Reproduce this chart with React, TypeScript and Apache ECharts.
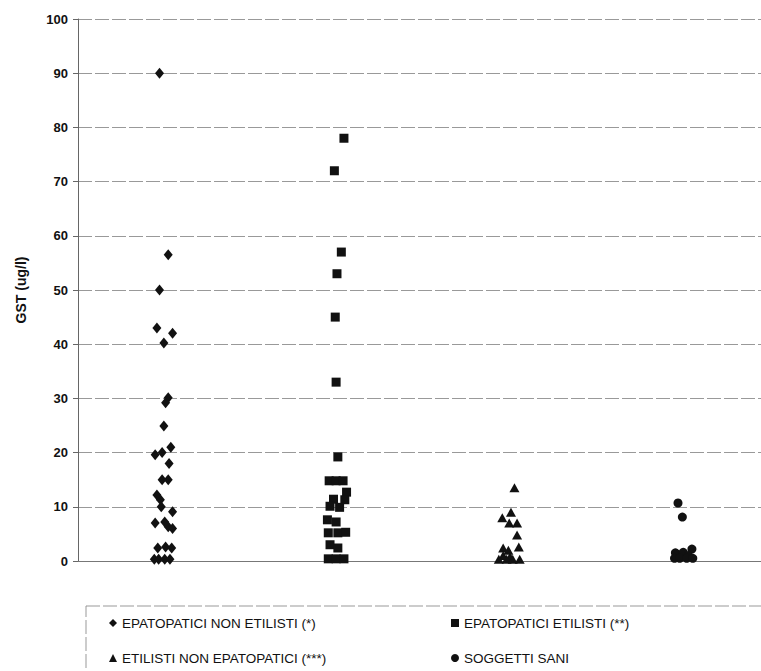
import React, { useEffect, useRef } from "react";
import * as echarts from "echarts";

// Y-axis ticks
const yTicks = [0, 10, 20, 30, 40, 50, 60, 70, 80, 90, 100];

// Group names (legend)
const groupNames = [
  "EPATOPATICI NON ETILISTI (*)",
  "EPATOPATICI ETILISTI (**)",
  "ETILISTI NON EPATOPATICI (***)",
  "SOGGETTI SANI",
];

// Values (GST ug/l) and horizontal jitter (fraction of group spacing) per group
const g1Values = [90, 56.5, 50, 43, 42, 40.2, 30.1, 29.2, 24.9, 21, 19.6, 20, 18, 15, 15, 12.2, 11.3, 10, 9.1, 7, 7.2, 6.3, 6, 2.4, 2.6, 2.4, 0.3, 0.3, 0.3, 0.3];
const g1Jitter = [-0.02, 0.03, -0.02, -0.035, 0.055, 0.005, 0.03, 0.015, 0.005, 0.045, -0.045, -0.005, 0.035, -0.005, 0.03, -0.035, -0.015, -0.01, 0.055, -0.045, 0.01, 0.03, 0.055, -0.03, 0.015, 0.05, -0.05, -0.025, 0.01, 0.04];

const g2Values = [78, 72, 57, 53, 45, 33, 19.2, 14.8, 14.8, 14.8, 12.7, 11.4, 11.3, 10.1, 9.9, 7.6, 7.2, 5.2, 5.2, 5.3, 3, 2.4, 0.4, 0.4, 0.4];
const g2Jitter = [0.04, -0.015, 0.025, 0, -0.01, -0.005, 0.005, -0.045, -0.005, 0.035, 0.055, -0.02, 0.045, -0.04, 0.015, -0.055, -0.005, -0.05, 0.005, 0.05, -0.04, 0.005, -0.05, -0.005, 0.04];

const g3Values = [13.5, 9, 8, 7, 7, 4.8, 2.6, 2.4, 2, 1, 0.8, 0.3, 0.3, 0.3, 0.3];
const g3Jitter = [0.02, 0, -0.05, -0.01, 0.035, 0.035, 0.045, -0.045, -0.015, -0.045, -0.005, -0.07, -0.025, 0.01, 0.05];

const g4Values = [10.7, 8.1, 2.2, 1.5, 1.6, 1.0, 0.5, 0.5, 0.5, 0.5];
const g4Jitter = [-0.04, -0.015, 0.04, -0.055, -0.01, 0.02, -0.06, -0.03, 0.01, 0.045];

const groupValues = [g1Values, g2Values, g3Values, g4Values];
const groupJitter = [g1Jitter, g2Jitter, g3Jitter, g4Jitter];
const symbols = ["diamond", "rect", "triangle", "circle"];
const symbolSizes = [[9, 11], 9, [10, 9], 9];

export default function App() {
  const ref = useRef<HTMLDivElement>(null);

  useEffect(() => {
    document.body.style.margin = "0";
    if (!ref.current) return;
    const chart = echarts.init(ref.current, null, { renderer: "svg" });
    const font = "Arial, 'Liberation Sans', sans-serif";

    const series = groupNames.map((name, gi) => ({
      name,
      type: "scatter",
      symbol: symbols[gi],
      symbolSize: symbolSizes[gi],
      itemStyle: { color: "#111", opacity: 1 },
      data: groupValues[gi].map((v, i) => [gi + 1 + groupJitter[gi][i], v]),
    }));

    const legendPos = [
      { left: 109, top: 616 },
      { left: 451, top: 616 },
      { left: 109, top: 651 },
      { left: 451, top: 651 },
    ];

    const legends = groupNames.map((name, gi) => ({
      show: true,
      orient: "horizontal",
      left: legendPos[gi].left,
      top: legendPos[gi].top,
      padding: 0,
      itemWidth: 8,
      itemHeight: 8,
      selectedMode: false,
      data: [name],
      textStyle: { fontFamily: font, fontSize: 13.5, color: "#111" },
    }));

    chart.setOption({
      animation: false,
      backgroundColor: "#fff",
      grid: { left: 78, right: 0, top: 19, bottom: 110 },
      xAxis: {
        type: "value",
        min: 0.5115,
        max: 4.437,
        show: true,
        axisLine: { show: true, onZero: false, lineStyle: { color: "#777", width: 1 } },
        axisTick: { show: false },
        axisLabel: { show: false },
        splitLine: { show: false },
      },
      yAxis: {
        type: "value",
        min: yTicks[0],
        max: yTicks[yTicks.length - 1],
        interval: 10,
        name: "GST (ug/l)",
        nameLocation: "middle",
        nameGap: 50,
        nameTextStyle: { fontFamily: font, fontSize: 14, fontWeight: "bold", color: "#111" },
        axisLine: { show: true, lineStyle: { color: "#666", width: 1 } },
        axisTick: { show: true, length: 5, lineStyle: { color: "#666" } },
        axisLabel: { fontFamily: font, fontSize: 13, fontWeight: "bold", color: "#111", margin: 10 },
        splitLine: { show: true, lineStyle: { color: "#999", width: 1, type: [14, 3] } },
      },
      legend: legends,
      graphic: [
        {
          type: "rect",
          shape: { x: 86, y: 606, width: 800, height: 200 },
          style: { fill: "none", stroke: "#999", lineWidth: 1, lineDash: [14, 3] },
          silent: true,
        },
      ],
      series,
    });

    return () => chart.dispose();
  }, []);

  return <div ref={ref} style={{ width: 761, height: 671 }} />;
}
